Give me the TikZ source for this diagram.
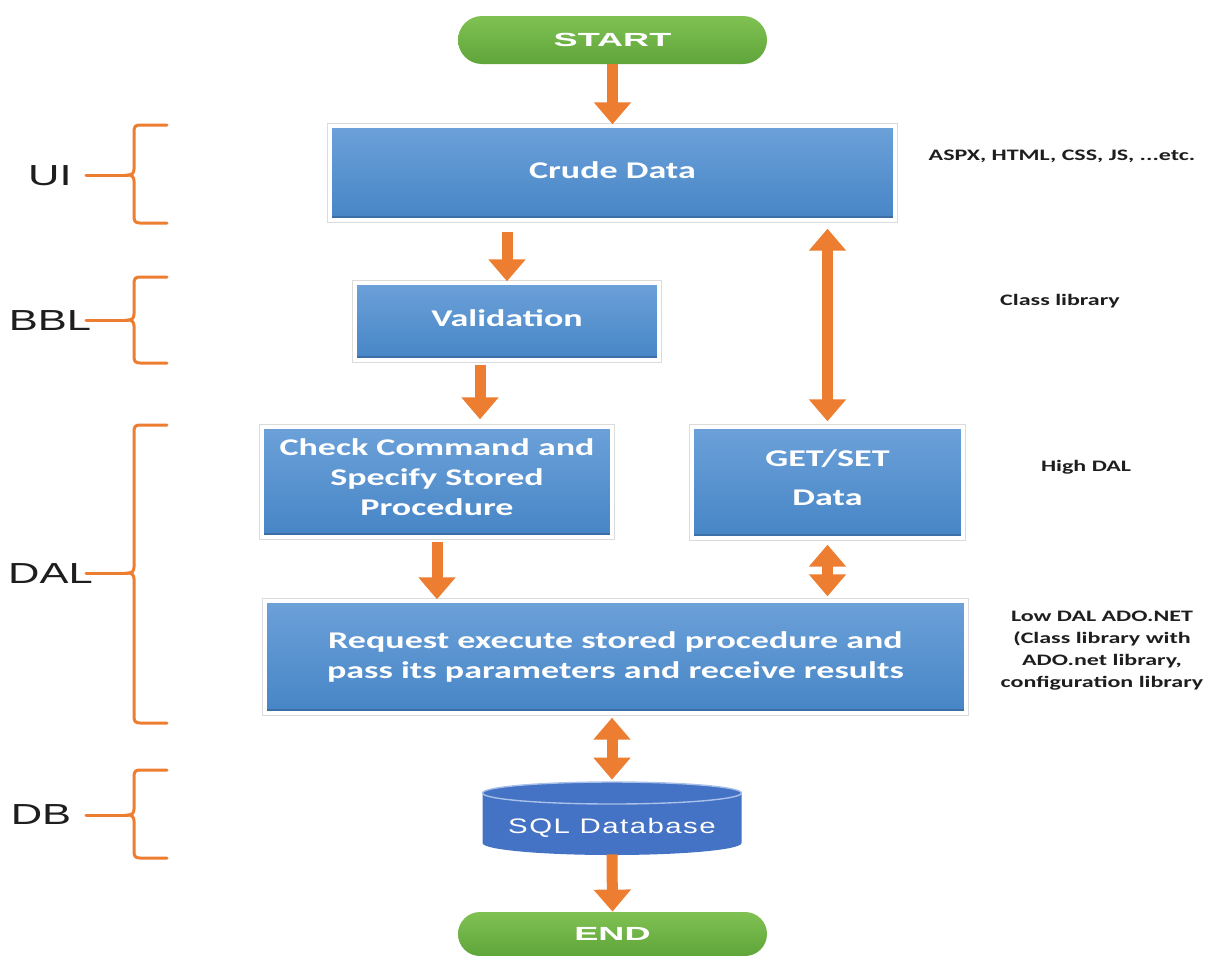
\documentclass[tikz,border=0pt]{standalone}
\usepackage{fontspec}
\setmainfont{Carlito}
\newfontfamily\boxfont[FakeStretch=1.5]{Carlito}
\newfontfamily\sidefont[FakeStretch=1.5]{Liberation Sans}
\newfontfamily\pillfont[FakeStretch=1.9]{Liberation Sans}
\newfontfamily\dbfont[FakeStretch=1.4,LetterSpace=7]{Liberation Sans}
\usetikzlibrary{arrows.meta,shapes.misc,calc}
\definecolor{orng}{HTML}{ED7D31}
\definecolor{btop}{HTML}{6CA1D9}
\definecolor{bbot}{HTML}{4685C6}
\definecolor{bedge}{HTML}{3B6FA6}
\definecolor{gtop}{HTML}{80C153}
\definecolor{gbot}{HTML}{5FA53A}
\definecolor{dbblue}{HTML}{4472C4}
\definecolor{dbline}{HTML}{A9C0E8}
\definecolor{ink}{HTML}{1E1E1E}
\tikzset{
  box/.style={rectangle, top color=btop, bottom color=bbot,
    preaction={draw=black!14, line width=2.7pt},
    draw=white, line width=1.7pt,
    text=white, font=\boxfont\bfseries\fontsize{12}{15}\selectfont, align=center, inner sep=0pt,
    path picture={\draw[bedge, line width=1pt] ([yshift=1.3pt]path picture bounding box.south west) -- ([yshift=1.3pt]path picture bounding box.south east);}},
  pill/.style={rounded rectangle, top color=gtop, bottom color=gbot, draw=none,
    minimum width=154.5pt, text=white, font=\pillfont\bfseries\fontsize{9.5}{11}\selectfont, inner sep=0pt},
  arr/.style={draw=orng, line width=5.5pt, -{Triangle[width=18pt,length=11pt]}},
  darr/.style={draw=orng, line width=5.5pt, {Triangle[width=18pt,length=11pt]}-{Triangle[width=18pt,length=11pt]}},
  brace/.style={draw=orng, line width=1.5pt, line cap=round},
  side/.style={text=ink, font=\sidefont\fontsize{14.5}{17}\selectfont, inner sep=0pt},
  note/.style={text=ink, font=\boxfont\bfseries\fontsize{8}{11}\selectfont, align=center, inner sep=0pt}
}
\begin{document}
\begin{tikzpicture}[x=0.5pt,y=0.5pt]
\fill[white] (0,0) rectangle (1206,-955);
\useasboundingbox (0,0) rectangle (1206,-955);

% terminals
\node[pill, minimum height=24pt] (start) at (612.5,-40) {START};
\node[pill, minimum height=22pt] (end) at (612.5,-934) {END};

% process boxes
\node[box, minimum width=282.5pt, minimum height=47pt, text depth=3pt] (crude) at (612.5,-173) {Crude Data};
\node[box, minimum width=152pt, minimum height=38.5pt, text depth=3.5pt] (val) at (507,-321.5) {Validation};
\node[box, minimum width=175pt, minimum height=55pt, text depth=5pt] (check) at (437,-482) {Check Command and\\Specify Stored\\Procedure};
\node[box, minimum width=135.5pt, minimum height=55.5pt, text depth=5pt, font=\boxfont\bfseries\fontsize{12}{19.5}\selectfont] (getset) at (827.5,-482.5) {GET/SET\\Data};
\node[box, minimum width=350.5pt, minimum height=56pt] (req) at (615.5,-657) {Request execute stored procedure and\\pass its parameters and receive results};

% database cylinder
\fill[dbblue] (482.5,-793) -- (482.5,-843) arc[start angle=180,end angle=360,x radius=64.75pt,y radius=6pt]
  -- (741.5,-793) arc[start angle=0,end angle=180,x radius=64.75pt,y radius=5.5pt] -- cycle;
\draw[dbline, line width=0.7pt] (612,-793) ellipse[x radius=64.75pt, y radius=5.5pt];
\node[minimum width=129.5pt, minimum height=37pt, inner sep=0pt] (db) at (612,-817) {};
\node[inner sep=0pt, text=white, font=\dbfont\fontsize{10.5}{12}\selectfont] (dbl) at ($(db.center)+(0,-11)$) {SQL Database};

% connectors
\draw[arr] (start.south) -- (crude.north -| start.south);
\draw[arr, shorten <=5pt] (crude.south -| val.north) -- (val.north);
\path (check.north) ++(43,0) coordinate (chkIn);
\draw[arr, shorten <=1.5pt, shorten >=3pt] (val.south -| chkIn) -- (chkIn);
\draw[arr, shorten <=1.5pt] (check.south) -- (req.north -| check.south);
\draw[darr, shorten <=3.5pt, shorten >=2pt] (crude.south -| getset.north) -- (getset.north);
\draw[darr, shorten <=2.5pt, shorten >=1.5pt] (getset.south) -- (req.north -| getset.south);
\draw[darr, shorten <=1.5pt] (db.north |- req.south) -- (db.north);
\draw[arr] (db.south) -- (end.north);

% layer braces
\draw[brace] (167,-125) -- (140,-125) .. controls (135,-125) and (134,-127) .. (134,-132) -- (134,-169)
  .. controls (134,-173) and (132,-175) .. (128,-175) .. controls (132,-175) and (134,-177) .. (134,-181)
  -- (134,-216) .. controls (134,-221) and (135,-223) .. (140,-223) -- (167,-223);
\draw[brace] (128,-175) -- (86,-175);
\draw[brace] (167,-277) -- (140,-277) .. controls (135,-277) and (134,-279) .. (134,-284) -- (134,-314)
  .. controls (134,-318) and (132,-320) .. (128,-320) .. controls (132,-320) and (134,-322) .. (134,-326)
  -- (134,-356) .. controls (134,-361) and (135,-363) .. (140,-363) -- (167,-363);
\draw[brace] (128,-320) -- (86,-320);
\draw[brace] (167,-425) -- (140,-425) .. controls (135,-425) and (134,-427) .. (134,-432) -- (134,-567)
  .. controls (134,-571) and (132,-573) .. (128,-573) .. controls (132,-573) and (134,-575) .. (134,-579)
  -- (134,-716) .. controls (134,-721) and (135,-723) .. (140,-723) -- (167,-723);
\draw[brace] (128,-573) -- (86,-573);
\draw[brace] (167,-770) -- (140,-770) .. controls (135,-770) and (134,-772) .. (134,-777) -- (134,-809)
  .. controls (134,-813) and (132,-815) .. (128,-815) .. controls (132,-815) and (134,-817) .. (134,-821)
  -- (134,-851) .. controls (134,-856) and (135,-858) .. (140,-858) -- (167,-858);
\draw[brace] (128,-815) -- (86,-815);

% layer labels
\node[side] (lUI) at (50,-176) {UI};
\node[side] (lBBL) at (50,-321) {BBL};
\node[side] (lDAL) at (50.5,-574) {DAL};
\node[side] (lDB) at (41,-815) {DB};

% notes
\node[note] (nUI) at (1062,-156) {ASPX, HTML, CSS, JS, ...etc.};
\node[note] (nBBL) at (1060,-301) {Class library};
\node[note] (nHigh) at (1086,-467) {High DAL};
\node[note] (nLow) at (1102,-651) {Low DAL ADO.NET\\(Class library with\\ADO.net library,\\configuration library};
\end{tikzpicture}
\end{document}
